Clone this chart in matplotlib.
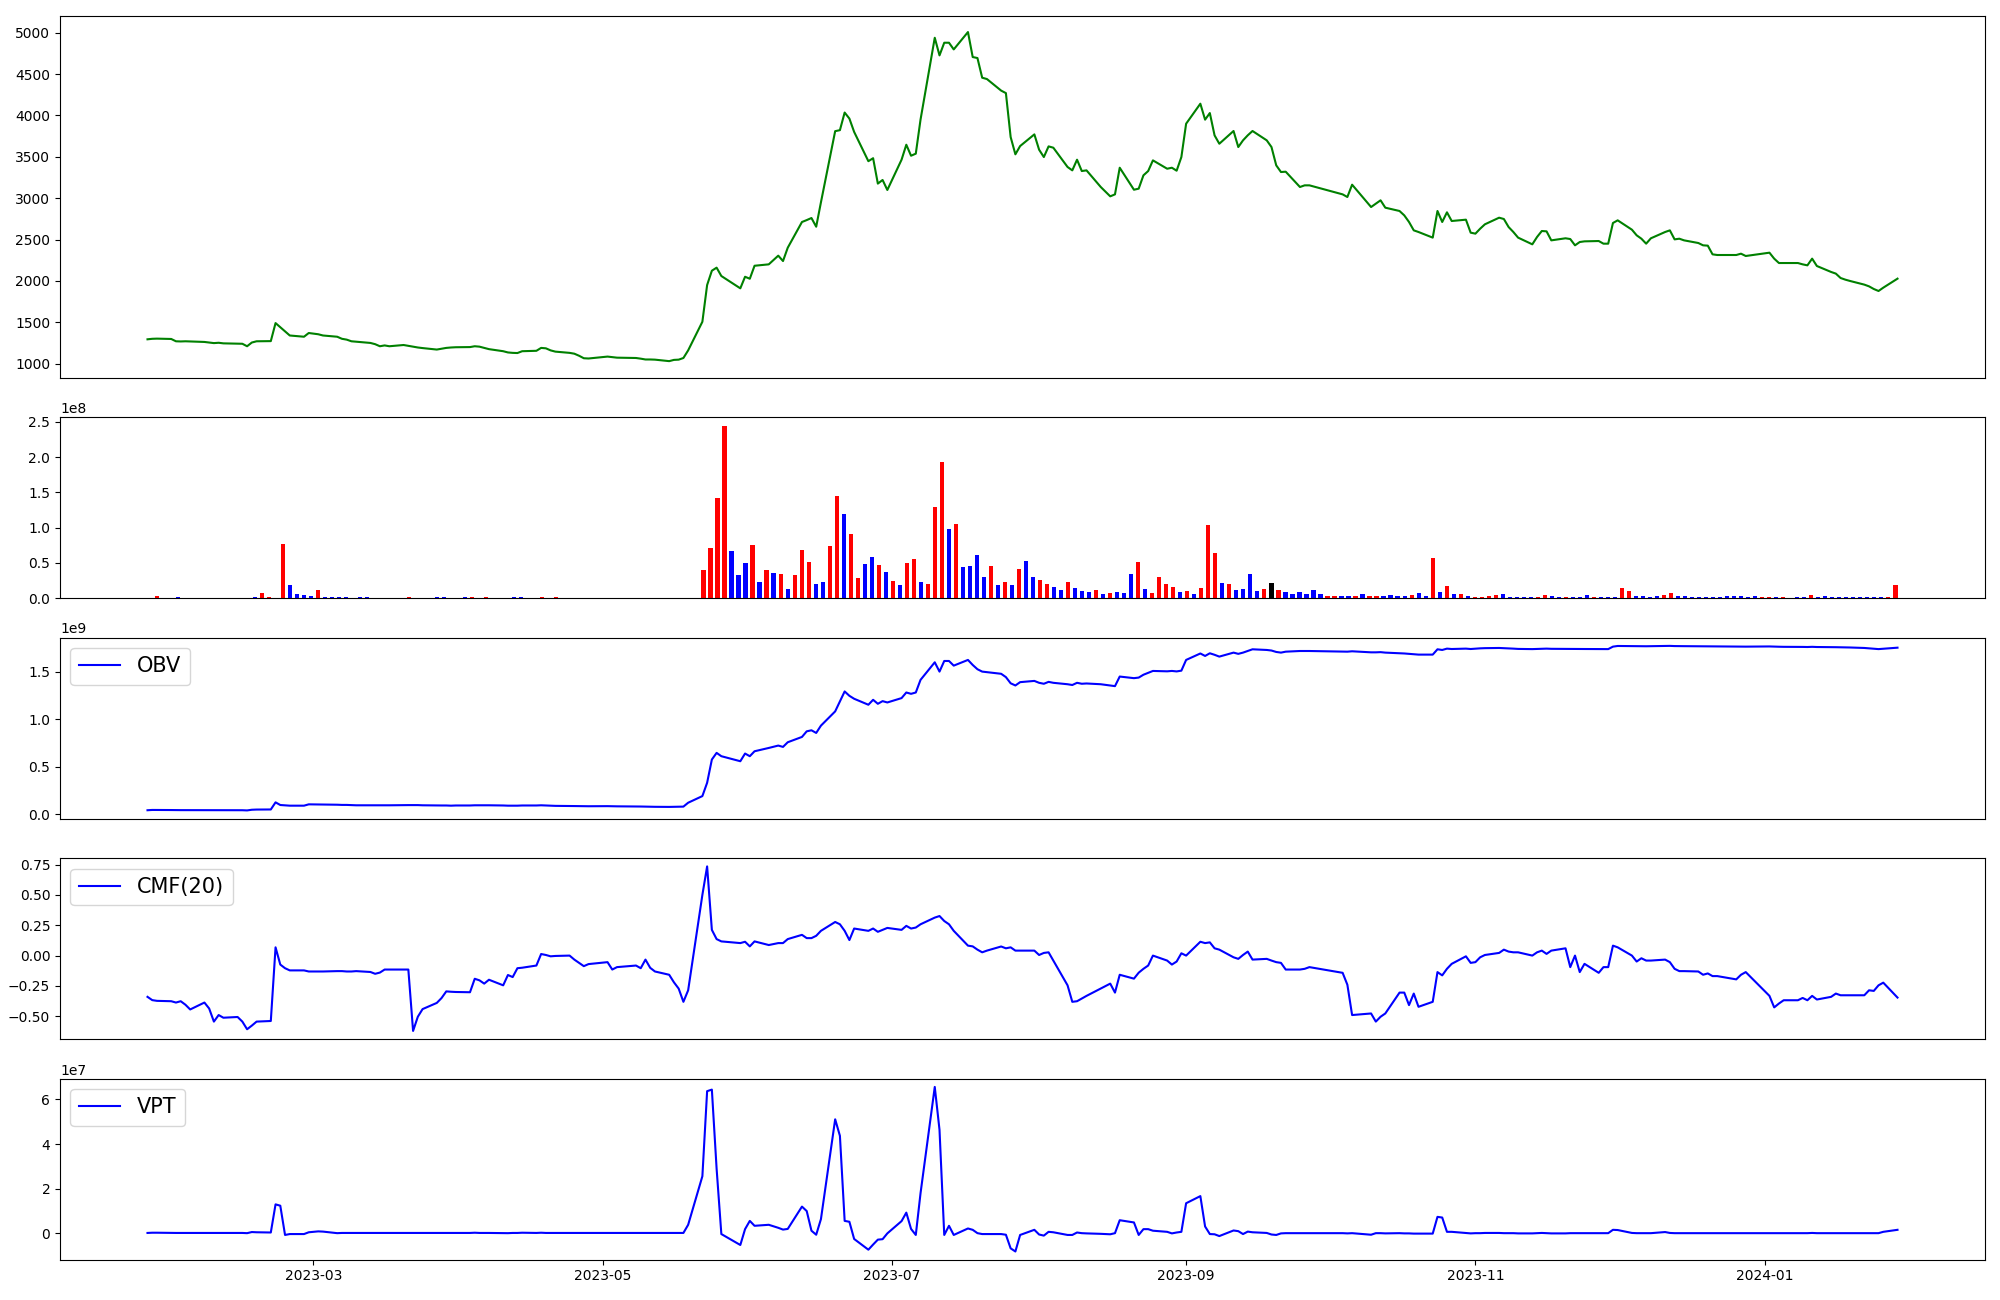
import numpy as np
import pandas as pd
import matplotlib
matplotlib.use("Agg")
import matplotlib.pyplot as plt
import matplotlib.dates as mdates
import matplotlib.gridspec as gridspec

# ---------------------------------------------------------------
# trading days (KRX calendar) 2023-01-25 .. 2024-01-29
# ---------------------------------------------------------------
krx_holidays = ["2023-03-01", "2023-05-01", "2023-05-05", "2023-05-29",
                "2023-06-06", "2023-08-15", "2023-09-28", "2023-09-29",
                "2023-10-02", "2023-10-03", "2023-10-09", "2023-12-25",
                "2023-12-29", "2024-01-01"]
dates = pd.bdate_range("2023-01-25", "2024-01-29", freq="C", holidays=krx_holidays)

# close price
close = [
    1294, 1300, 1302, 1298, 1270,
    1268, 1270, 1268, 1262, 1255, 1248, 1252, 1245, 1242, 1240, 1210, 1255, 1270, 1272, 1490, 1440, 1390, 1340, 1325, 1370,
    1355, 1340, 1325, 1300, 1290, 1270, 1265, 1250, 1235, 1210, 1220, 1210, 1225, 1215, 1205, 1195, 1188, 1170, 1180, 1190, 1195, 1198,
    1200, 1210, 1205, 1190, 1175, 1150, 1135, 1130, 1128, 1150, 1155, 1190, 1185, 1160, 1145, 1130, 1120, 1095, 1065, 1062,
    1085, 1078, 1072, 1068, 1060, 1050, 1050, 1048, 1030, 1045, 1048, 1068, 1160, 1506, 1950, 2123, 2160, 2059, 1910, 2050,
    2026, 2183, 2200, 2305, 2240, 2401, 2712, 2735, 2760, 2655, 2950, 3810, 3822, 4035, 3962, 3801, 3447, 3483, 3176, 3220, 3099,
    3465, 3646, 3513, 3538, 3950, 4939, 4726, 4879, 4879, 4798, 5008, 4706, 4694, 4456, 4440, 4300, 4270, 3739, 3530, 3630, 3771,
    3586, 3497, 3626, 3610, 3377, 3336, 3465, 3328, 3336, 3135, 3022, 3046, 3368, 3102, 3115, 3276, 3328, 3457, 3356, 3368, 3332, 3497,
    3900, 4142, 3949, 4029, 3759, 3658, 3812, 3618, 3699, 3760, 3812, 3699, 3618, 3397, 3316, 3320, 3135, 3155, 3155,
    3046, 3014, 3163, 2893, 2933, 2974, 2885, 2845, 2792, 2712, 2611, 2591, 2523, 2845, 2712, 2829, 2724, 2740, 2583,
    2571, 2631, 2684, 2764, 2748, 2651, 2591, 2523, 2442, 2531, 2603, 2599, 2490, 2515, 2506, 2430, 2470, 2478, 2482, 2450, 2450, 2700,
    2732, 2619, 2551, 2510, 2450, 2515, 2591, 2611, 2502, 2510, 2490, 2458, 2430, 2426, 2321, 2313, 2313, 2329, 2301,
    2341, 2269, 2216, 2216, 2216, 2200, 2188, 2269, 2180, 2108, 2088, 2035, 2015, 1999, 1955, 1934, 1902, 1878, 1918, 2027,
]

# volume (millions of shares)
volume_m = [
    0.4, 3.3, 0.6, 0.5, 1.9,
    0.5, 0.4, 0.6, 0.5, 0.4, 0.5, 0.6, 0.4, 0.5, 0.7, 1.9, 7.5, 2.0, 0.8, 76.7, 18.8, 6.1, 4.7, 3.3, 11.8,
    1.9, 1.9, 1.9, 1.9, 0.6, 1.9, 1.9, 0.5, 0.6, 0.7, 0.5, 0.4, 1.9, 0.5, 0.6, 0.5, 1.9, 1.9, 0.5, 0.4, 1.9, 1.9,
    0.5, 1.9, 0.5, 0.6, 0.4, 1.9, 1.9, 0.5, 0.6, 1.9, 0.5, 1.9, 0.6, 0.5, 0.4, 0.5, 0.6, 0.7, 0.8, 0.5,
    0.6, 0.5, 0.4, 0.5, 0.4, 0.5, 0.4, 0.4, 0.6, 0.5, 0.6, 0.8, 40.0, 71.0, 141.6, 244.6, 66.8, 32.9, 49.9, 75.3,
    23.0, 40.0, 35.7, 34.3, 13.2, 32.9, 68.2, 51.3, 20.2, 23.0, 73.8, 144.4, 119.0, 90.8, 28.7, 48.4, 58.3, 47.0, 37.2, 24.5, 18.8,
    49.9, 55.5, 23.0, 20.2, 128.9, 193.8, 97.8, 104.9, 44.2, 45.6, 61.1, 30.1, 45.6, 18.8, 23.0, 18.8, 41.4, 52.7, 30.1, 25.9, 20.2,
    16.0, 11.8, 23.0, 14.6, 10.3, 8.9, 11.8, 6.1, 7.5, 8.9, 7.5, 34.3, 51.3, 13.2, 7.5, 30.1, 20.2, 16.0, 8.9, 10.3, 6.1, 14.6,
    103.5, 64.0, 21.6, 20.2, 11.8, 13.2, 34.3, 10.3, 13.2, 21.6, 11.8, 8.9, 6.1, 8.9, 6.1, 11.8, 6.1, 3.3, 3.3,
    3.3, 3.3, 3.3, 6.1, 3.3, 3.3, 3.3, 4.7, 3.3, 3.3, 4.7, 7.5, 3.3, 56.9, 8.9, 17.4, 6.1, 6.1, 3.3,
    1.9, 1.9, 3.3, 4.7, 6.1, 1.9, 1.9, 1.9, 1.9, 1.9, 4.7, 3.3, 1.9, 1.9, 1.9, 1.9, 4.7, 1.9, 1.9, 1.9, 1.9, 14.6,
    10.3, 3.3, 3.3, 1.9, 3.3, 4.7, 7.5, 3.3, 3.3, 1.9, 1.9, 1.9, 1.9, 1.9, 3.3, 3.3, 3.3, 1.9, 3.3,
    1.9, 1.9, 1.9, 1.9, 0.5, 1.9, 1.9, 4.7, 1.9, 3.3, 1.9, 1.9, 1.9, 1.9, 1.9, 1.9, 1.9, 1.9, 1.9, 18.8,
]

# candle direction: 1 up (red), -1 down (blue), 0 unchanged (black)
candle_dir = [
    1, 1, 1, -1, -1,
    -1, 1, -1, -1, -1, -1, 1, -1, -1, -1, -1, 1, 1, 1, 1, -1, -1, -1, -1, 1,
    -1, -1, -1, -1, -1, -1, -1, -1, -1, -1, 1, -1, 1, -1, -1, -1, -1, -1, 1, 1, -1, 1,
    1, 1, -1, -1, -1, -1, -1, -1, -1, 1, 1, 1, -1, -1, -1, -1, -1, -1, -1, -1,
    1, -1, -1, -1, -1, -1, -1, -1, -1, 1, 1, 1, 1, 1, 1, 1, -1, -1, -1, 1,
    -1, 1, -1, 1, -1, 1, 1, 1, -1, -1, 1, 1, -1, 1, 1, -1, -1, 1, -1, 1, -1,
    1, 1, -1, 1, 1, 1, -1, 1, -1, -1, -1, -1, 1, -1, 1, -1, 1, -1, -1, 1, 1,
    -1, -1, 1, -1, -1, -1, 1, -1, 1, -1, -1, -1, 1, -1, 1, 1, 1, 1, -1, 1, -1, 1,
    1, 1, -1, 1, -1, -1, -1, -1, 1, 0, 1, -1, -1, -1, -1, -1, -1, 1, 1,
    -1, -1, 1, -1, 1, 1, -1, -1, -1, -1, 1, -1, -1, 1, -1, 1, -1, 1, -1,
    1, 1, 1, 1, -1, -1, -1, -1, -1, 1, 1, -1, -1, 1, -1, -1, -1, 1, -1, -1, -1, 1,
    1, -1, -1, -1, -1, 1, 1, -1, -1, -1, -1, -1, -1, -1, -1, -1, -1, -1, -1,
    1, 1, -1, 1, 1, -1, -1, 1, -1, -1, -1, -1, -1, -1, -1, -1, -1, -1, 1, 1,
]

# on-balance volume (1e9)
obv_b = [
    0.043, 0.046, 0.046, 0.045, 0.044,
    0.044, 0.044, 0.044, 0.043, 0.043, 0.043, 0.043, 0.043, 0.043, 0.043, 0.041, 0.048, 0.050, 0.051, 0.126, 0.098, 0.094, 0.091, 0.091, 0.105,
    0.104, 0.103, 0.101, 0.099, 0.099, 0.097, 0.095, 0.095, 0.095, 0.095, 0.095, 0.095, 0.097, 0.097, 0.097, 0.097, 0.095, 0.093, 0.093, 0.093, 0.091, 0.093,
    0.093, 0.095, 0.095, 0.095, 0.095, 0.093, 0.091, 0.091, 0.091, 0.093, 0.093, 0.095, 0.093, 0.091, 0.089, 0.088, 0.087, 0.086, 0.085, 0.085,
    0.086, 0.085, 0.084, 0.083, 0.082, 0.081, 0.080, 0.079, 0.078, 0.079, 0.080, 0.081, 0.122, 0.192, 0.332, 0.577, 0.647, 0.612, 0.559, 0.640,
    0.612, 0.664, 0.699, 0.724, 0.710, 0.759, 0.815, 0.874, 0.885, 0.857, 0.934, 1.084, 1.189, 1.294, 1.248, 1.217, 1.154, 1.206, 1.164, 1.192, 1.178,
    1.224, 1.283, 1.269, 1.283, 1.416, 1.601, 1.503, 1.615, 1.615, 1.566, 1.626, 1.573, 1.528, 1.503, 1.497, 1.480, 1.445, 1.380, 1.357, 1.392, 1.405,
    1.385, 1.375, 1.395, 1.385, 1.370, 1.362, 1.385, 1.375, 1.378, 1.370, 1.357, 1.350, 1.451, 1.434, 1.440, 1.470, 1.490, 1.510, 1.506, 1.510, 1.505, 1.513,
    1.626, 1.694, 1.668, 1.696, 1.680, 1.661, 1.703, 1.690, 1.703, 1.720, 1.738, 1.731, 1.725, 1.710, 1.703, 1.713, 1.720, 1.720, 1.720,
    1.713, 1.713, 1.717, 1.706, 1.706, 1.708, 1.703, 1.696, 1.694, 1.690, 1.687, 1.682, 1.682, 1.738, 1.731, 1.745, 1.741, 1.745, 1.741,
    1.745, 1.748, 1.750, 1.752, 1.750, 1.748, 1.745, 1.742, 1.740, 1.742, 1.745, 1.745, 1.743, 1.742, 1.742, 1.741, 1.741, 1.741, 1.741, 1.740, 1.740, 1.766,
    1.773, 1.772, 1.771, 1.770, 1.770, 1.771, 1.773, 1.774, 1.772, 1.772, 1.771, 1.770, 1.770, 1.769, 1.768, 1.768, 1.767, 1.767, 1.766,
    1.768, 1.766, 1.765, 1.764, 1.764, 1.763, 1.762, 1.764, 1.762, 1.761, 1.760, 1.759, 1.758, 1.757, 1.752, 1.748, 1.744, 1.740, 1.744, 1.755,
]

# chaikin money flow, 20 days
cmf20 = [
    -0.340, -0.367, -0.373, -0.376, -0.387,
    -0.376, -0.405, -0.444, -0.387, -0.436, -0.544, -0.490, -0.512, -0.506, -0.544, -0.607, -0.577, -0.544, -0.539, 0.068, -0.074, -0.104, -0.122, -0.122, -0.131,
    -0.131, -0.131, -0.128, -0.128, -0.131, -0.131, -0.128, -0.135, -0.150, -0.140, -0.115, -0.115, -0.115, -0.115, -0.621, -0.504, -0.441, -0.390, -0.350, -0.295, -0.298, -0.300,
    -0.302, -0.191, -0.204, -0.231, -0.199, -0.245, -0.160, -0.177, -0.104, -0.100, -0.082, 0.013, 0.005, -0.006, -0.003, 0.000, -0.033, -0.060, -0.087, -0.070,
    -0.054, -0.115, -0.095, -0.082, -0.104, -0.033, -0.101, -0.131, -0.158, -0.220, -0.272, -0.381, -0.286, 0.500, 0.735, 0.212, 0.136, 0.117, 0.103, 0.114,
    0.076, 0.117, 0.087, 0.103, 0.103, 0.136, 0.171, 0.144, 0.144, 0.163, 0.204, 0.277, 0.258, 0.204, 0.128, 0.223, 0.204, 0.223, 0.196, 0.212, 0.228,
    0.212, 0.245, 0.223, 0.231, 0.258, 0.313, 0.326, 0.285, 0.258, 0.204, 0.082, 0.076, 0.049, 0.027, 0.041, 0.075, 0.060, 0.068, 0.041, 0.041, 0.041,
    0.005, 0.022, 0.027, -0.041, -0.245, -0.381, -0.376, -0.354, -0.332, -0.272, -0.231, -0.305, -0.158, -0.190, -0.141, -0.109, -0.082, 0.000, -0.041, -0.074, -0.049, 0.019,
    0.000, 0.114, 0.103, 0.109, 0.060, 0.049, -0.014, -0.027, 0.005, 0.033, -0.033, -0.027, -0.041, -0.054, -0.060, -0.115, -0.115, -0.109, -0.095,
    -0.142, -0.240, -0.490, -0.477, -0.544, -0.504, -0.477, -0.305, -0.305, -0.408, -0.313, -0.422, -0.381, -0.136, -0.163, -0.109, -0.068, -0.006, -0.060,
    -0.054, -0.014, 0.005, 0.022, 0.049, 0.033, 0.027, 0.027, 0.000, 0.027, 0.041, 0.014, 0.041, 0.060, -0.095, 0.000, -0.136, -0.068, -0.142, -0.095, -0.095, 0.082,
    0.068, 0.000, -0.049, -0.022, -0.041, -0.041, -0.033, -0.054, -0.109, -0.128, -0.128, -0.131, -0.158, -0.147, -0.169, -0.169, -0.196, -0.158, -0.136,
    -0.332, -0.427, -0.395, -0.368, -0.368, -0.349, -0.368, -0.332, -0.362, -0.340, -0.313, -0.327, -0.327, -0.327, -0.327, -0.286, -0.291, -0.245, -0.223, -0.346,
]

# volume price trend (1e7)
vpt_e7 = [
    0.02, 0.03, 0.03, 0.02, 0.02,
    0.02, 0.02, 0.02, 0.02, 0.02, 0.02, 0.02, 0.02, 0.02, 0.02, 0.01, 0.06, 0.05, 0.04, 1.30, 1.24, -0.07, -0.03, -0.03, 0.05,
    0.09, 0.08, 0.01, 0.02, 0.02, 0.02, 0.02, 0.02, 0.02, 0.02, 0.02, 0.02, 0.02, 0.02, 0.02, 0.02, 0.02, 0.02, 0.02, 0.02, 0.02, 0.02,
    0.02, 0.03, 0.02, 0.02, 0.02, 0.01, 0.01, 0.02, 0.02, 0.03, 0.02, 0.03, 0.02, 0.02, 0.02, 0.02, 0.02, 0.02, 0.02, 0.02,
    0.02, 0.02, 0.02, 0.02, 0.02, 0.02, 0.02, 0.02, 0.02, 0.02, 0.02, 0.02, 0.385, 2.56, 6.37, 6.44, 2.90, -0.03, -0.52, 0.19,
    0.56, 0.34, 0.385, 0.25, 0.17, 0.20, 1.20, 1.00, 0.12, -0.06, 0.64, 5.11, 4.37, 0.56, 0.52, -0.25, -0.73, -0.50, -0.28, -0.26, 0.00,
    0.55, 0.93, 0.20, -0.07, 1.80, 6.56, 4.64, -0.07, 0.34, -0.07, 0.22, 0.16, 0.01, -0.03, -0.03, -0.03, -0.06, -0.67, -0.81, -0.07, 0.16,
    -0.05, -0.10, 0.07, 0.05, -0.07, -0.07, 0.04, 0.01, 0.00, -0.02, -0.04, 0.01, 0.59, 0.49, -0.07, 0.19, 0.19, 0.12, 0.07, 0.00, 0.04, 0.07,
    1.35, 1.67, 0.31, -0.03, -0.04, -0.12, 0.13, 0.10, -0.03, 0.08, 0.05, 0.02, -0.05, -0.07, 0.00, 0.01, 0.01, 0.01, 0.01,
    0.01, 0.00, 0.01, -0.06, 0.01, 0.01, 0.00, 0.01, 0.00, 0.00, -0.01, -0.01, -0.01, 0.74, 0.71, 0.07, 0.07, 0.02, 0.00,
    0.01, 0.01, 0.02, 0.02, 0.01, 0.01, 0.01, 0.00, 0.00, 0.01, 0.02, 0.01, 0.00, 0.00, 0.01, 0.01, 0.01, 0.01, 0.01, 0.01, 0.01, 0.16,
    0.15, 0.02, 0.01, 0.01, 0.01, 0.01, 0.06, 0.02, 0.01, 0.01, 0.01, 0.01, 0.01, 0.01, 0.01, 0.01, 0.01, 0.01, 0.01,
    0.01, 0.01, 0.01, 0.01, 0.01, 0.01, 0.01, 0.02, 0.01, 0.01, 0.01, 0.01, 0.01, 0.01, 0.01, 0.01, 0.01, 0.01, 0.07, 0.16,
]

volume = np.array(volume_m) * 1e6
obv = np.array(obv_b) * 1e9
vpt = np.array(vpt_e7) * 1e7
bar_colors = ['red' if d > 0 else ('blue' if d < 0 else 'black') for d in candle_dir]

# ---------------------------------------------------------------
# plot
# ---------------------------------------------------------------
fig = plt.figure(figsize=(20, 13), dpi=100)
gs = gridspec.GridSpec(5, 1, height_ratios=[2, 1, 1, 1, 1], left=0.03, right=0.9925,
                       top=0.988, bottom=0.031, hspace=0.182)

ax_price = fig.add_subplot(gs[0])
ax_price.plot(dates, close, color='green')
ax_price.set_xticks([])

ax_vol = fig.add_subplot(gs[1])
ax_vol.bar(np.arange(len(volume)), volume, color=bar_colors, width=0.6)
ax_vol.set_xticks([])

ax_obv = fig.add_subplot(gs[2])
ax_obv.plot(dates, obv, color='blue', label='OBV')
ax_obv.legend(loc='upper left', fontsize=15)
ax_obv.set_xticks([])

ax_cmf = fig.add_subplot(gs[3])
ax_cmf.plot(dates, cmf20, color='blue', label='CMF(20)')
ax_cmf.legend(loc='upper left', fontsize=15)
ax_cmf.set_xticks([])

ax_vpt = fig.add_subplot(gs[4])
ax_vpt.plot(dates, vpt, color='blue', label='VPT')
ax_vpt.legend(loc='upper left', fontsize=15)
ax_vpt.xaxis.set_major_locator(mdates.MonthLocator(bymonth=[1, 3, 5, 7, 9, 11]))
ax_vpt.xaxis.set_major_formatter(mdates.DateFormatter('%Y-%m'))

fig.savefig("out.png", dpi=100)
